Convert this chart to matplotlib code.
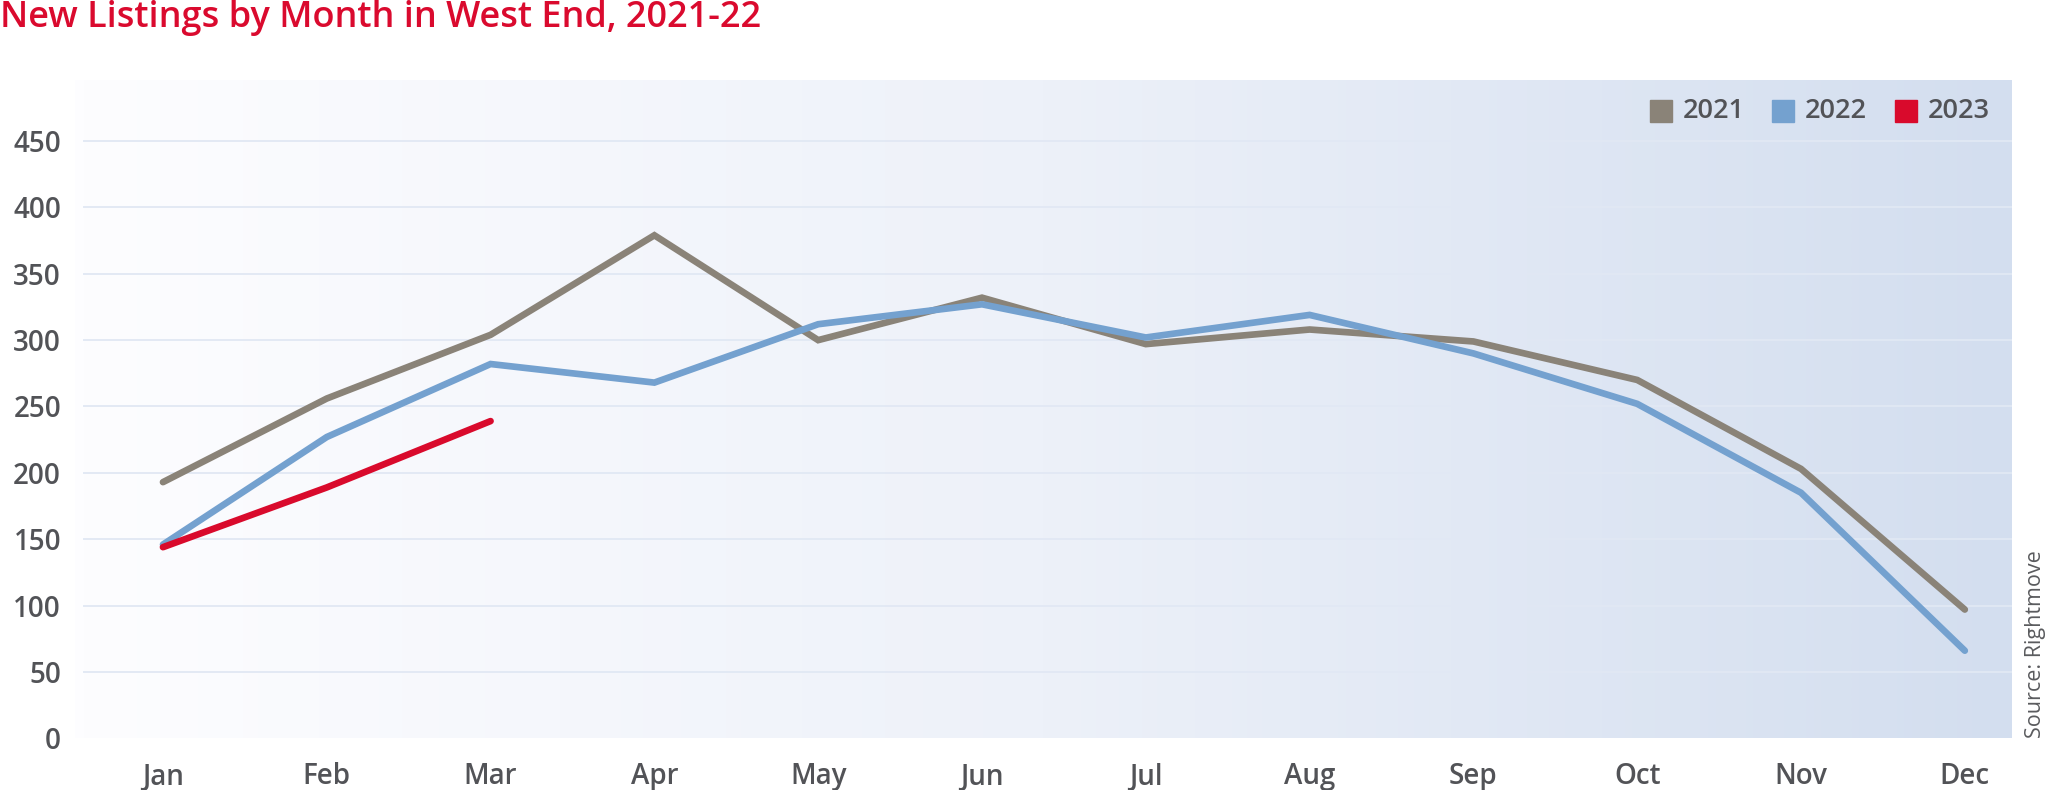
import numpy as np
import matplotlib
matplotlib.use('Agg')
import matplotlib.pyplot as plt
from matplotlib.colors import LinearSegmentedColormap
from matplotlib.patches import Rectangle

# 字体设置
plt.rcParams['font.family'] = ['Open Sans', 'DejaVu Sans']

# 数据
months = ['Jan', 'Feb', 'Mar', 'Apr', 'May', 'Jun', 'Jul', 'Aug', 'Sep', 'Oct', 'Nov', 'Dec']
listings_2021 = [193, 256, 304, 379, 300, 332, 297, 308, 299, 270, 203, 97]
listings_2022 = [146, 227, 282, 268, 312, 327, 302, 319, 290, 252, 185, 66]
listings_2023 = [144, 189, 239]
years = ['2021', '2022', '2023']
y_ticks = [0, 50, 100, 150, 200, 250, 300, 350, 400, 450]

colors = {'2021': '#8A8378', '2022': '#74A1CF', '2023': '#D90A2C'}
text_gray = '#525357'
title_red = '#DA0A2E'
grid_color = '#E1E8F4'

W, H = 2048, 790


def fx(px):
    return px / W


def fy(py):
    return 1 - py / H


fig = plt.figure(figsize=(W / 100, H / 100), dpi=100)
fig.patch.set_facecolor('white')

# 绘图区域 (按像素位置)
left, right, top, bottom = 75, 2012, 80, 738.3
ax = fig.add_axes([fx(left), fy(bottom), fx(right) - fx(left), fy(top) - fy(bottom)])

x = np.arange(len(months))
xmin, xmax = -0.537, 11.288
ymin, ymax = 0, 496
ax.set_xlim(xmin, xmax)
ax.set_ylim(ymin, ymax)

# 渐变背景
bg_cmap = LinearSegmentedColormap.from_list('bg', ['#FDFDFF', '#EDF1F9', '#D3DEEF'])
ax.imshow(np.linspace(0, 1, 512).reshape(1, -1), cmap=bg_cmap, aspect='auto',
          extent=[xmin, xmax, ymin, ymax], zorder=0, interpolation='bilinear')

# 网格线
ax.hlines(y_ticks[1:], -0.49, xmax, color=grid_color, lw=1.3, zorder=1)

# 折线
ax.plot(x, listings_2021, color=colors['2021'], lw=4.8, solid_capstyle='round',
        solid_joinstyle='miter', zorder=3)
ax.plot(x, listings_2022, color=colors['2022'], lw=4.8, solid_capstyle='round',
        solid_joinstyle='miter', zorder=4)
ax.plot(x[:len(listings_2023)], listings_2023, color=colors['2023'], lw=4.8,
        solid_capstyle='round', solid_joinstyle='miter', zorder=5)

# 坐标轴
ax.set_xticks(x)
ax.set_xticklabels(months)
ax.set_yticks(y_ticks)
ax.tick_params(length=0, colors=text_gray, labelsize=20)
ax.tick_params(axis='y', pad=10)
ax.tick_params(axis='x', pad=17)
for lab in ax.get_xticklabels() + ax.get_yticklabels():
    lab.set_fontweight('semibold')
for s in ax.spines.values():
    s.set_visible(False)

# 图例
sq = 22
legend_x = [1650, 1772, 1895]
for lx, yr in zip(legend_x, years):
    fig.add_artist(Rectangle((fx(lx), fy(100 + sq)), sq / W, sq / H,
                             transform=fig.transFigure, color=colors[yr], zorder=6))
    fig.text(fx(lx + 33), fy(111.5), yr, color=text_gray, fontsize=19.5,
             fontweight='semibold', va='center', ha='left')

# 标题
fig.text(0, fy(0), 'New Listings by Month in West End, 2021-22', color=title_red,
         fontsize=26, fontweight='semibold', va='top', ha='left')

# 来源
fig.text(fx(2036), fy(644), 'Source: Rightmove', color='#5A5B5E', fontsize=15.5,
         rotation=90, va='center', ha='center')

fig.savefig('out.png', dpi=100)
